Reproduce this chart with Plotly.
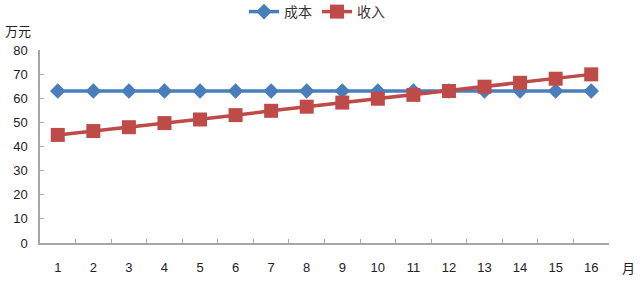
import plotly.graph_objects as go

months = [str(i) for i in range(1, 17)]
cost = [63, 63, 63, 63, 63, 63, 63, 63, 63, 63, 63, 63, 63, 63, 63, 63]
revenue = [44.8, 46.4, 48.0, 49.7, 51.2, 53.0, 54.8, 56.5, 58.2, 59.8, 61.4, 63.0, 64.8, 66.4, 68.1, 69.9]
y_ticks = [0, 10, 20, 30, 40, 50, 60, 70, 80]

W, H = 640, 281
L, R, T, B = 40, 31, 50, 38
pw, ph = W - L - R, H - T - B

tick_font = dict(family="Liberation Sans, Arial, sans-serif", size=13, color="#222")

fig = go.Figure()
fig.add_trace(go.Scatter(
    x=months, y=cost, name="成本", mode="lines+markers",
    line=dict(color="#4A7EBB", width=3.5),
    marker=dict(symbol="diamond", size=12, color="#4A7EBB"),
))
fig.add_trace(go.Scatter(
    x=months, y=revenue, name="收入", mode="lines+markers",
    line=dict(color="#BE4B48", width=3.5),
    marker=dict(symbol="square", size=14, color="#BE4B48"),
))

fig.update_layout(
    width=W, height=H,
    margin=dict(l=L, r=R, t=T, b=B, autoexpand=False),
    paper_bgcolor="white", plot_bgcolor="white",
    showlegend=True,
    legend=dict(
        orientation="h", x=(317 - L) / pw, xanchor="center",
        y=1 + (T - 12) / ph, yanchor="middle",
        font=dict(family="Noto Sans CJK SC", size=14, color="#333"),
        itemwidth=30, tracegroupgap=0,
    ),
    xaxis=dict(
        type="category", range=[-0.5, 15.5],
        showline=True, linecolor="#A6A6A6", linewidth=1.5,
        ticks="inside", ticklen=4, tickcolor="#A6A6A6",
        tickson="boundaries", showgrid=False, zeroline=False,
        tickfont=tick_font, ticklabelstandoff=12,
        automargin=False,
    ),
    yaxis=dict(
        range=[0, 80], tickvals=y_ticks,
        showline=True, linecolor="#A6A6A6", linewidth=1.5,
        ticks="inside", ticklen=4, tickcolor="#A6A6A6",
        showgrid=False, zeroline=False,
        tickfont=tick_font, ticklabelstandoff=8,
        automargin=False,
    ),
    annotations=[
        dict(text="万元", xref="paper", yref="paper",
             x=(18 - L) / pw, y=1 + (T - 30) / ph,
             xanchor="center", yanchor="middle", showarrow=False,
             font=dict(family="Noto Sans CJK SC", size=13, color="#222")),
        dict(text="月", xref="paper", yref="paper",
             x=(628 - L) / pw, y=-(267 - (H - B)) / ph,
             xanchor="center", yanchor="middle", showarrow=False,
             font=dict(family="Noto Sans CJK SC", size=13, color="#222")),
    ],
)

fig.write_html("out.html")
